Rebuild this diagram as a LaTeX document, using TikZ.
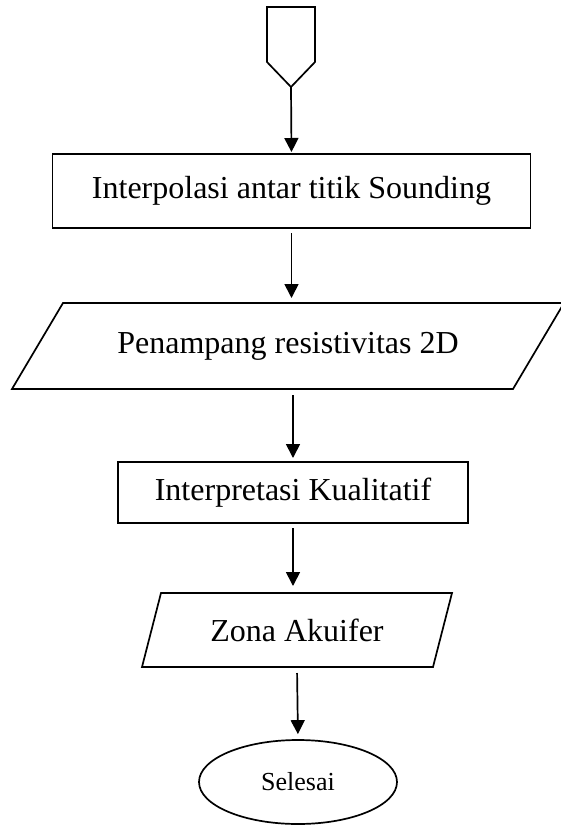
\documentclass[tikz,border=0pt]{standalone}
\usepackage{fontspec}
\setmainfont{Liberation Serif}
\usetikzlibrary{arrows.meta,shapes.geometric}
\begin{document}
\begin{tikzpicture}[x=1pt,y=-1pt,
  outline/.style={line width=1.7pt, line join=miter},
  conn/.style={line width=1.7pt, -{Triangle[length=14pt,width=14pt]}},
  lbl/.style={font=\fontsize{32}{38}\selectfont, inner sep=0pt, outer sep=0pt, anchor=center},
  frame/.style={draw=none, lbl},
  procbox/.style={draw, outline, lbl},
]
\useasboundingbox (0,0) rectangle (560,825);

% off-page connector
\node[frame, minimum width=48pt, minimum height=80pt] (start) at (291,47) {};
\draw[outline] (start.north west) -- (start.north east) -- ([yshift=25pt]start.south east)
  -- (start.south) -- ([yshift=25pt]start.south west) -- cycle;

% process 1
\node[procbox, minimum width=478pt, minimum height=74pt] (r1) at (291.5,191) {Interpolasi antar titik Sounding};

% data 1
\node[frame, minimum width=552pt, minimum height=86pt] (p1) at (288,346) {Penampang resistivitas 2D};
\draw[outline] ([xshift=51pt]p1.north west) -- (p1.north east) -- ([xshift=-51pt]p1.south east)
  -- (p1.south west) -- cycle;

% process 2
\node[procbox, minimum width=350pt, minimum height=61pt] (r2) at (293,492.5) {Interpretasi Kualitatif};

% data 2
\node[frame, minimum width=310pt, minimum height=74pt] (p2) at (297,630) {Zona Akuifer};
\draw[outline] ([xshift=19pt]p2.north west) -- (p2.north east) -- ([xshift=-19pt]p2.south east)
  -- (p2.south west) -- cycle;

% terminator
\node[draw, outline, ellipse, minimum width=198pt, minimum height=84pt, inner sep=0pt,
  font=\fontsize{26}{31}\selectfont] (end) at (298,782) {Selesai};

% connectors
\draw[conn, shorten >=2pt] (start.south) -- (r1.north);
\draw[conn, shorten <=5pt, shorten >=5pt] (r1.south) -- (r1.south |- p1.north);
\draw[conn, shorten <=6pt, shorten >=4pt] (r2.north |- p1.south) -- (r2.north);
\draw[conn, shorten <=5pt, shorten >=7pt] (r2.south) -- (r2.south |- p2.north);
\draw[conn, shorten <=6pt, shorten >=5pt] (p2.south) -- (end.north);
\end{tikzpicture}
\end{document}
